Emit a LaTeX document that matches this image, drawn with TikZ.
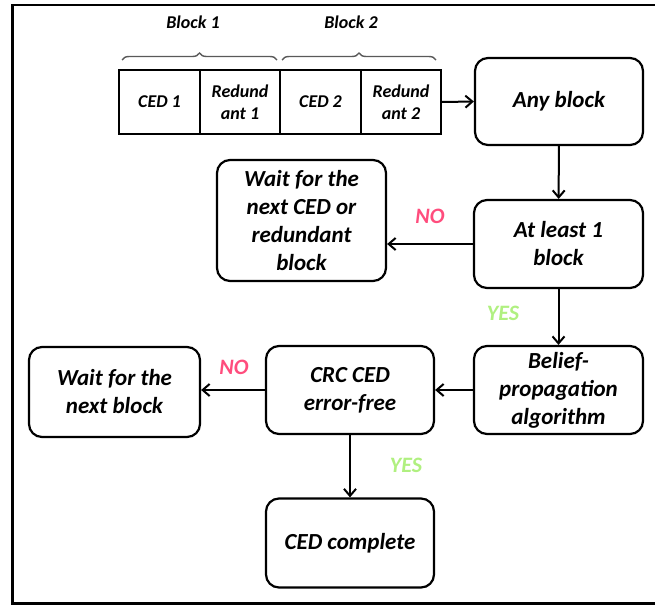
\documentclass[tikz,border=0pt]{standalone}
\usepackage{fontspec}
\setmainfont{Carlito}
\usetikzlibrary{arrows.meta,decorations.pathreplacing}
\definecolor{nocol}{RGB}{255,77,125}
\definecolor{yescol}{RGB}{176,240,128}
\tikzset{
  flow/.style={draw, line width=2.2pt, rounded corners=13pt, align=center,
    font=\fontsize{23}{28}\selectfont\bfseries\itshape, inner sep=1pt},
  cell/.style={draw, line width=2.2pt, align=center, minimum height=64pt,
    font=\fontsize{18}{22}\selectfont\bfseries\itshape, inner sep=0pt},
  conn/.style={line width=2pt, -{Straight Barb[length=7pt,width=12pt,line width=2pt]}},
  lbl/.style={font=\fontsize{22}{24}\selectfont\bfseries\itshape},
  blk/.style={font=\fontsize{18}{20}\selectfont\bfseries\itshape},
  brc/.style={draw=black!65, line width=1.4pt, decorate, decoration={brace, amplitude=7pt}},
}
\begin{document}
\begin{tikzpicture}[x=1pt,y=-1pt]
\useasboundingbox (0,0) rectangle (655,605);
\draw[line width=2.8pt] (665,5) -- (12.5,5) -- (12.5,603.5) -- (665,603.5);

% top strip
\node[cell, minimum width=81pt] (ced1) at (159.5,102) {CED 1};
\node[cell, minimum width=80pt] (red1) at (240,102) {Redund\\ant 1};
\node[cell, minimum width=81pt] (ced2) at (320.5,102) {CED 2};
\node[cell, minimum width=80pt] (red2) at (401,102) {Redund\\ant 2};

\draw[brc] (122,60) -- (277,60);
\draw[brc] (282,60) -- (436,60);
\node[blk] (b1) at (193,22) {Block 1};
\node[blk] (b2) at (351,22) {Block 2};

% flow nodes
\node[flow, minimum width=168pt, minimum height=87pt] (any) at (559,101.5) {Any block};
\node[flow, minimum width=169pt, minimum height=88pt] (least) at (558.5,244) {At least 1\\block};
\node[flow, minimum width=169pt, minimum height=121pt] (wait1) at (301.5,220.5) {Wait for the\\next CED or\\redundant\\block};
\node[flow, minimum width=169pt, minimum height=88pt] (belief) at (558.5,390) {Belief-\\propagation\\algorithm};
\node[flow, minimum width=168pt, minimum height=88pt] (crc) at (350,390) {CRC CED\\error-free};
\node[flow, minimum width=171pt, minimum height=90pt] (wait2) at (114.5,392) {Wait for the\\next block};
\node[flow, minimum width=168pt, minimum height=89pt] (done) at (350,543) {CED complete};

% connectors
\draw[conn] (red2.east) -- (any.west);
\draw[conn] (any) -- (least);
\draw[conn] (least.west) -- (wait1.east |- least.west);
\draw[conn] (least) -- (belief);
\draw[conn] (belief.west) -- (crc.east);
\draw[conn] (crc.west) -- (wait2.east |- crc.west);
\draw[conn] (crc) -- (done);

% labels
\node[lbl, text=nocol] (no1) at (430,216) {NO};
\node[lbl, text=yescol] (yes1) at (503,313) {YES};
\node[lbl, text=nocol] (no2) at (234,367) {NO};
\node[lbl, text=yescol] (yes2) at (406,465) {YES};
\end{tikzpicture}
\end{document}
